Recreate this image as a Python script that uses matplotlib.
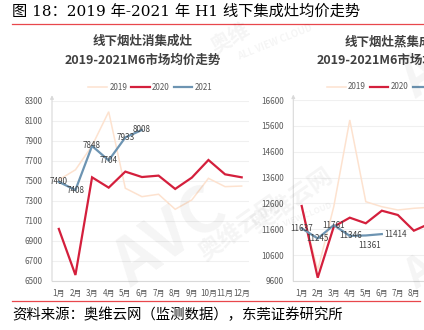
import matplotlib
matplotlib.use("Agg")
import matplotlib.pyplot as plt

plt.rcParams["font.family"] = ["Noto Sans CJK SC", "DejaVu Sans"]

# Months shared by both panels
months = ["1月", "2月", "3月", "4月", "5月", "6月",
          "7月", "8月", "9月", "10月", "11月", "12月"]

# 线下烟灶消集成灶 average price
xiao_2019 = [7510, 7610, 7850, 8190, 7426, 7342, 7366, 7216, 7309, 7525, 7442, 7448]
xiao_2020 = [7020, 6560, 7535, 7432, 7592, 7538, 7552, 7419, 7532, 7708, 7565, 7535]
xiao_2021 = [7490, 7408, 7848, 7704, 7933, 8008]

# 线下烟灶蒸集成灶 average price
zheng_2019 = [12450, 10026, 12473, 15827, 12667, 12473, 12346, 12412, 12450, 12380, 12300, 12350]
zheng_2020 = [12501, 9728, 11701, 12049, 11832, 12319, 12153, 11546, 11823, 12100, 11900, 12000]
zheng_2021 = [11637, 11245, 11761, 11346, 11361, 11414]

years = ["2019", "2020", "2021"]
colors = ["#fde2cf", "#d41f3c", "#6d94b2"]
widths = [1.1, 1.6, 1.6]

W, H = 424, 330
fig = plt.figure(figsize=(W / 100, H / 100), dpi=100)


def px(x0, y_top, x1, y_bot):
    return [x0 / W, 1 - y_bot / H, (x1 - x0) / W, (y_bot - y_top) / H]


def draw_panel(ax, series, ylim, step, xlim, label_offsets):
    xs = list(range(1, 13))
    for name, vals, c, lw in zip(years, series, colors, widths):
        ax.plot(xs[:len(vals)], vals, color=c, lw=lw, label=name,
                solid_joinstyle="miter", zorder=3)
    for i, v in enumerate(series[2]):
        dx, dy = label_offsets[i]
        ax.annotate(str(v), (xs[i], v), xytext=(dx, dy),
                    textcoords="offset points", ha="center", va="center",
                    fontsize=5.8, color="#404040", zorder=4)
    ax.set_xlim(*xlim)
    ax.set_ylim(*ylim)
    ax.set_yticks(range(ylim[0], ylim[1] + 1, step))
    ax.set_xticks(xs)
    ax.set_xticklabels(months)
    ax.tick_params(length=0, labelsize=5.8, labelcolor="#595959")
    ax.tick_params(axis="y", pad=7)
    ax.tick_params(axis="x", pad=6)
    ax.grid(axis="y", color="#f0f0f0", lw=0.8, zorder=0)
    for s in ["top", "right", "left"]:
        ax.spines[s].set_visible(False)
    ax.spines["bottom"].set_color("#d9d9d9")
    ax.spines["bottom"].set_linewidth(0.8)
    ax.annotate("", xy=(0, 1.03), xytext=(0, 0), xycoords="axes fraction",
                arrowprops=dict(arrowstyle="-|>", color="#d9d9d9", lw=0.8,
                                mutation_scale=5, shrinkA=0, shrinkB=0))
    ax.legend(loc="center", bbox_to_anchor=(0.5, 1.072), ncol=3,
              frameon=False, fontsize=5.8, handlelength=2.3,
              columnspacing=0.5, handletextpad=0.3, labelcolor="#595959")


ax1 = fig.add_axes(px(52, 100.7, 249, 281))
draw_panel(ax1, [xiao_2019, xiao_2020, xiao_2021], (6500, 8300), 200,
           (0.59, 12.44), [(0, 0)] * 6)

ax2 = fig.add_axes(px(293.3, 100, 485, 281))
draw_panel(ax2, [zheng_2019, zheng_2020, zheng_2021], (9600, 16600), 1000,
           (0.475, 12.44),
           [(0, 0), (0, 0), (0, 0), (1, 0), (3, -7.5), (10, 0)])

# panel titles
title_kw = dict(ha="center", va="center", fontsize=9, fontweight="bold",
                color="#404040")
fig.text(143 / W, 1 - 41.7 / H, "线下烟灶消集成灶", **title_kw)
fig.text(143 / W, 1 - 60.7 / H, "2019-2021M6市场均价走势", **title_kw)
fig.text(395 / W, 1 - 41.7 / H, "线下烟灶蒸集成灶", **title_kw)
fig.text(395 / W, 1 - 60.7 / H, "2019-2021M6市场均价走势", **title_kw)

# faint source watermark
wm = dict(color="#000000", alpha=0.045, ha="center", va="center",
          fontweight="bold", zorder=10)
fig.text(170 / W, 1 - 238 / H, "AVC", fontsize=46, rotation=35,
         style="italic", **wm)
fig.text(240 / W, 1 - 228 / H, "奥维云网", fontsize=17, rotation=35, **wm)
fig.text(292 / W, 1 - 200 / H, "奥维云网", fontsize=17, rotation=35, **wm)
fig.text(230 / W, 1 - 38 / H, "奥维", fontsize=15, rotation=30, **wm)
fig.text(275 / W, 1 - 42 / H, "ALL VIEW CLOUD", fontsize=7, rotation=22, **wm)
fig.text(300 / W, 1 - 218 / H, "ALL VIEW CLOUD", fontsize=6, rotation=22, **wm)
fig.text(420 / W, 1 - 75 / H, "A", fontsize=40, rotation=35, **wm)
fig.text(420 / W, 1 - 272 / H, "A", fontsize=30, rotation=35, **wm)

# header, rules and source line
fig.text(12 / W, 1 - 12 / H, "图 18：2019 年-2021 年 H1 线下集成灶均价走势",
         ha="left", va="center", fontsize=11, color="#000000",
         family=["DejaVu Serif", "Noto Sans CJK SC"])
fig.add_artist(plt.Line2D([12 / W, 1], [1 - 24 / H] * 2, color="#e8474c", lw=0.9))
fig.add_artist(plt.Line2D([12 / W, 420 / W], [1 - 301 / H] * 2, color="#e8474c", lw=0.9))
fig.text(12 / W, 1 - 315 / H, "资料来源：奥维云网（监测数据），东莞证券研究所",
         ha="left", va="center", fontsize=10.4, color="#000000")

fig.savefig("out.png", dpi=100)
